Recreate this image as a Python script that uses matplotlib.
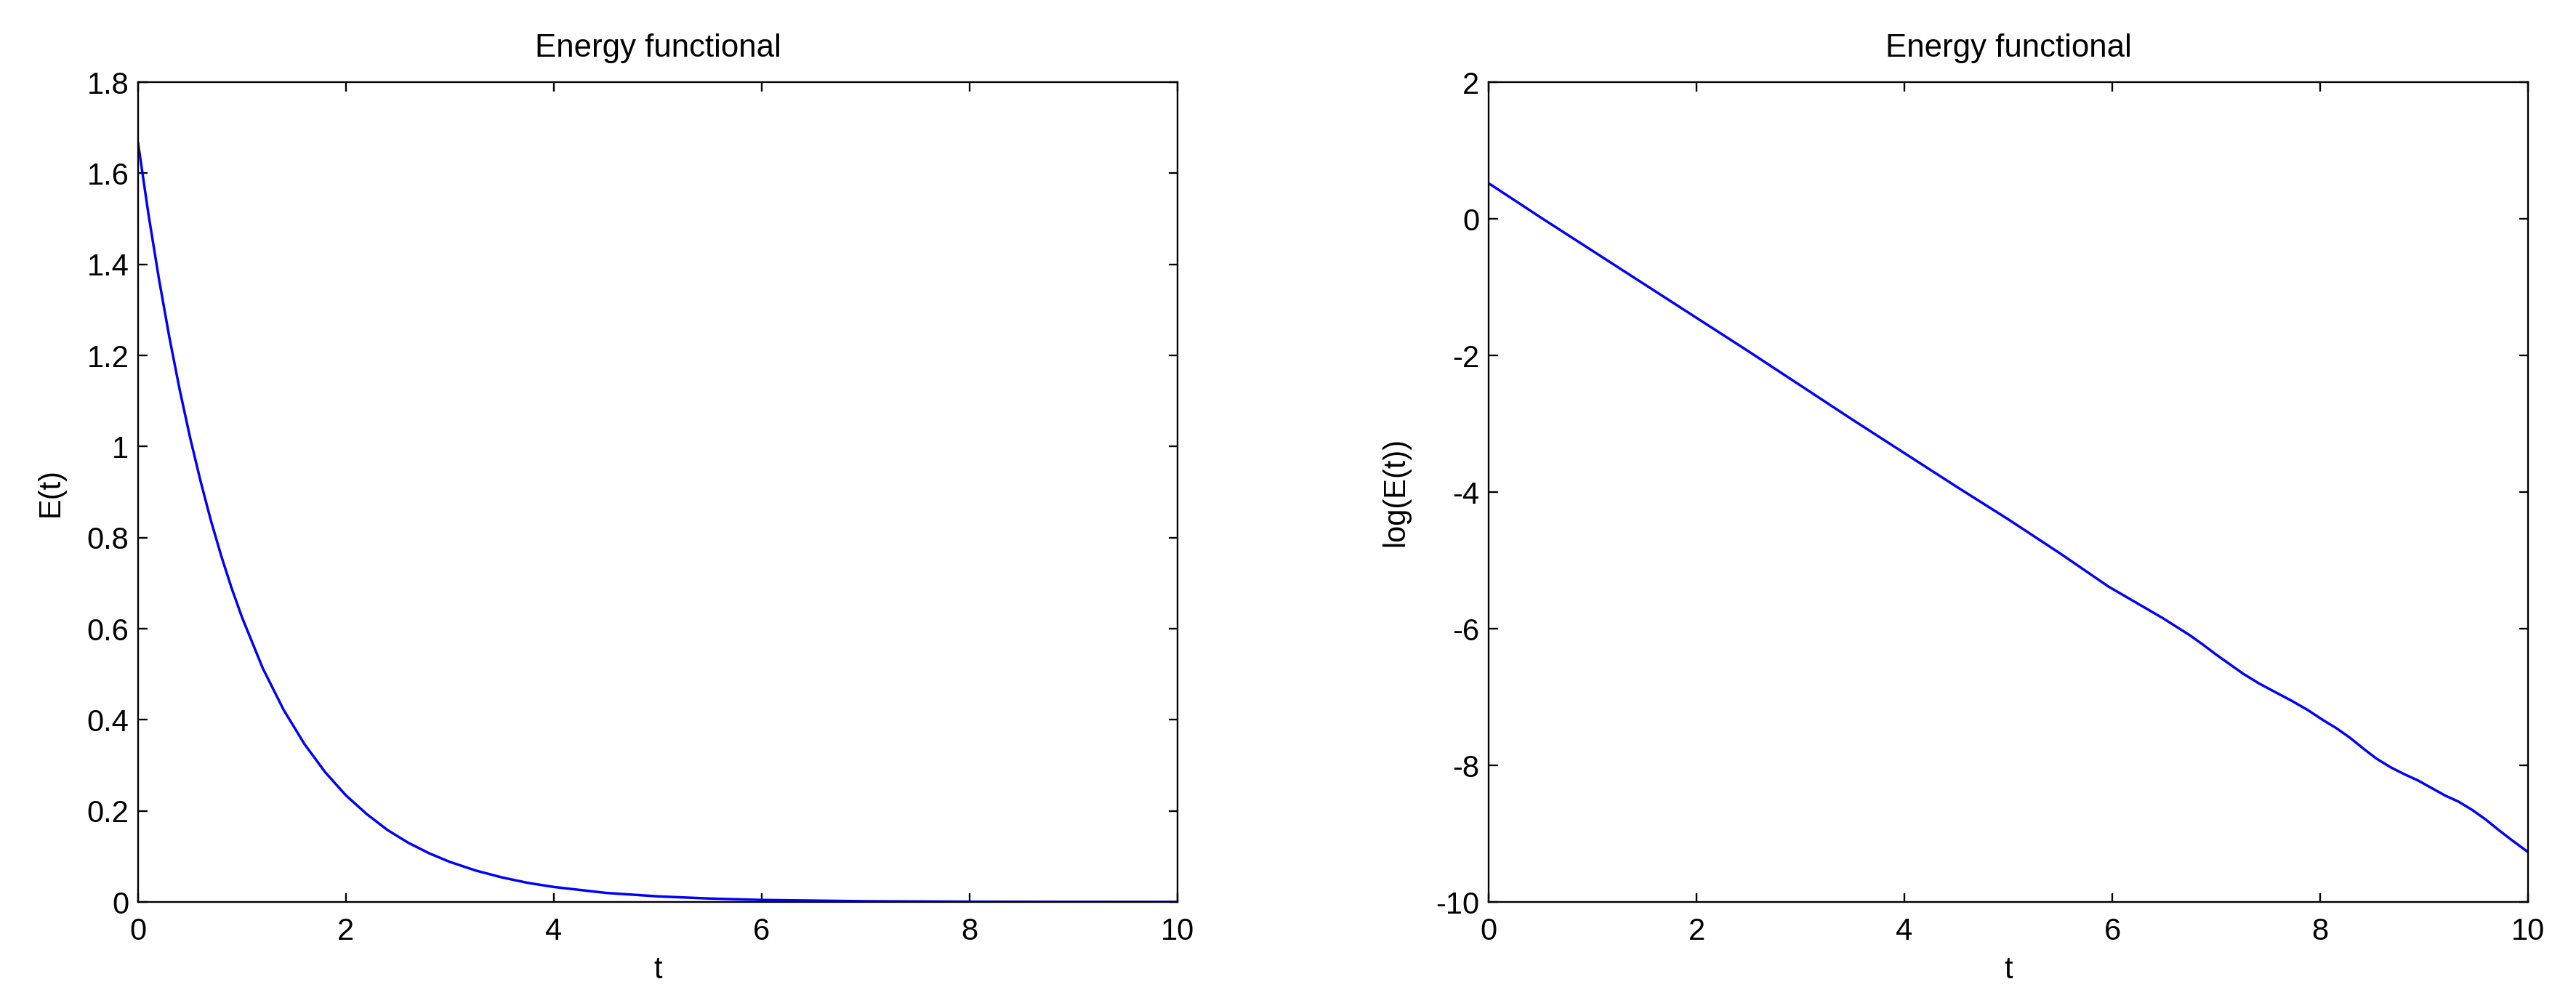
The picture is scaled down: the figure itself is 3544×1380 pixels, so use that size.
import matplotlib
matplotlib.use("Agg")
import matplotlib.pyplot as plt
from matplotlib.ticker import FormatStrFormatter
import numpy as np

t_E = [0, 0.1, 0.2, 0.3, 0.4, 0.5, 0.6, 0.7, 0.8, 0.9, 1.0, 1.2, 1.4, 1.6, 1.8,
       2.0, 2.2, 2.4, 2.6, 2.8, 3.0, 3.25, 3.5, 3.75, 4.0, 4.5, 5.0, 5.5, 6.0,
       7.0, 8.0, 9.0, 10.0]
E = [1.666, 1.510, 1.369, 1.241, 1.125, 1.020, 0.925, 0.838, 0.760, 0.689,
     0.625, 0.513, 0.422, 0.347, 0.285, 0.234, 0.193, 0.158, 0.130, 0.107,
     0.088, 0.069, 0.054, 0.042, 0.033, 0.020, 0.0124, 0.0076, 0.0045,
     0.0017, 0.00067, 0.00026, 0.0001]

t_log = [0, 0.5, 1, 1.5, 2, 2.5, 3, 3.5, 4, 4.5, 5, 5.5, 5.96, 6.22, 6.48,
         6.74, 6.87, 7.0, 7.13, 7.26, 7.41, 7.57, 7.72, 7.88, 8.03, 8.16,
         8.29, 8.42, 8.54, 8.68, 8.81, 8.94, 9.07, 9.2, 9.33, 9.46, 9.59,
         9.72, 9.84, 10]
logE = [0.52, 0.02, -0.47, -0.96, -1.45, -1.94, -2.44, -2.94, -3.43, -3.92,
        -4.40, -4.90, -5.38, -5.61, -5.84, -6.09, -6.23, -6.38, -6.52, -6.66,
        -6.80, -6.93, -7.05, -7.19, -7.34, -7.46, -7.60, -7.76, -7.90, -8.03,
        -8.13, -8.22, -8.33, -8.44, -8.53, -8.65, -8.79, -8.95, -9.09, -9.27]

plt.rcParams['font.family'] = ['Liberation Sans', 'DejaVu Sans']
plt.rcParams['font.size'] = 30

fig = plt.figure(figsize=(35.44, 13.8), dpi=100)
ax1 = fig.add_axes([0.0536, 0.1007, 0.4035, 0.8174])
ax2 = fig.add_axes([0.5779, 0.1007, 0.4035, 0.8174])

ax1.plot(t_E, E, color='#0000ff', linewidth=2.5)
ax2.plot(t_log, logE, color='#0000ff', linewidth=2.5)

ax1.set_xlim(0, 10)
ax1.set_ylim(0, 1.8)
ax1.set_yticks(np.arange(0, 1.81, 0.2))
ax2.set_xlim(0, 10)
ax2.set_ylim(-10, 2)
ax2.set_yticks(range(-10, 3, 2))

for ax in (ax1, ax2):
    ax.set_xticks(range(0, 11, 2))
    ax.xaxis.set_major_formatter(FormatStrFormatter('%g'))
    ax.yaxis.set_major_formatter(FormatStrFormatter('%g'))
    ax.tick_params(direction='in', top=True, right=True, length=9, width=1.7)
    ax.tick_params(axis='x', pad=15)
    ax.tick_params(axis='y', pad=9)
    for s in ax.spines.values():
        s.set_linewidth(1.7)
    ax.set_title('Energy functional', pad=25, fontsize=31.5)
    ax.set_xlabel('t')
    ax.xaxis.set_label_coords(0.5, -0.0656)

ax1.set_ylabel('E(t)')
ax1.yaxis.set_label_coords(-0.070, 0.5)
ax2.set_ylabel('log(E(t))')
ax2.yaxis.set_label_coords(-0.0755, 0.5)

fig.savefig('out.png', dpi=100)
